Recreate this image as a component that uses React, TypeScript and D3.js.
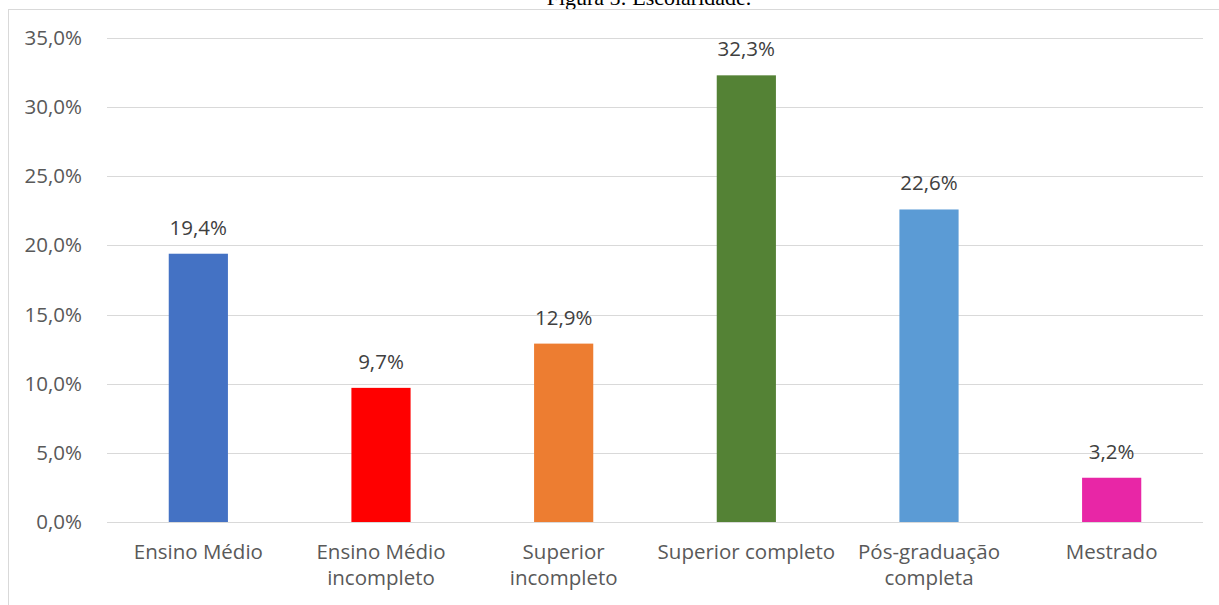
import React from "react";
import * as d3 from "d3";

const categories: string[][] = [
  ["Ensino Médio"],
  ["Ensino Médio", "incompleto"],
  ["Superior", "incompleto"],
  ["Superior completo"],
  ["Pós-graduação", "completa"],
  ["Mestrado"],
];
const values: number[] = [19.4, 9.7, 12.9, 32.3, 22.6, 3.2];
const colors: string[] = ["#4472C4", "#FF0000", "#ED7D31", "#548235", "#5B9BD5", "#E826A6"];
const yTicks: number[] = [0, 5, 10, 15, 20, 25, 30, 35];
const title = "Figura 5: Escolaridade.";

const W = 1219;
const H = 605;
const left = 107;
const right = 1203;
const top = 38;
const bottom = 522;
const font = "'Open Sans', sans-serif";
const fs = 20.5;

const fmt = (v: number) => v.toFixed(1).replace(".", ",") + "%";

export default function App() {
  const x = d3
    .scaleBand<number>()
    .domain(d3.range(values.length))
    .range([left, right])
    .paddingInner(0.676)
    .paddingOuter(0.338);
  const y = d3.scaleLinear().domain([0, 35]).range([bottom, top]);

  return (
    <svg
      width={W}
      height={H}
      style={{ position: "absolute", left: 0, top: 0, display: "block" }}
    >
      <rect x={0} y={0} width={W} height={H} fill="#fff" />
      <text
        x={649}
        y={5}
        textAnchor="middle"
        fontFamily="'Liberation Serif', 'Times New Roman', serif"
        fontSize={22}
        fill="#000"
      >
        {title}
      </text>
      <rect
        x={8.5}
        y={9.5}
        width={W + 10}
        height={H + 10}
        fill="none"
        stroke="#d9d9d9"
        strokeWidth={1}
      />
      {yTicks.map((t) => (
        <g key={t}>
          <line
            x1={left}
            x2={right}
            y1={Math.round(y(t)) + 0.5}
            y2={Math.round(y(t)) + 0.5}
            stroke="#d9d9d9"
            strokeWidth={1}
          />
          <text
            x={82}
            y={y(t) + 7}
            textAnchor="end"
            fontFamily={font}
            fontSize={fs}
            fill="#595959"
          >
            {fmt(t)}
          </text>
        </g>
      ))}
      {values.map((v, i) => (
        <g key={i}>
          <rect
            x={x(i)}
            y={y(v)}
            width={x.bandwidth()}
            height={y(0) - y(v)}
            fill={colors[i]}
          />
          <text
            x={(x(i) as number) + x.bandwidth() / 2}
            y={y(v) - 19}
            textAnchor="middle"
            fontFamily={font}
            fontSize={fs}
            fill="#404040"
          >
            {fmt(v)}
          </text>
          {categories[i].map((line, j) => (
            <text
              key={j}
              x={(x(i) as number) + x.bandwidth() / 2}
              y={559 + j * 26}
              textAnchor="middle"
              fontFamily={font}
              fontSize={fs}
              fill="#595959"
            >
              {line}
            </text>
          ))}
        </g>
      ))}
      <line
        x1={left}
        x2={right}
        y1={bottom + 0.5}
        y2={bottom + 0.5}
        stroke="#d9d9d9"
        strokeWidth={1}
      />
    </svg>
  );
}
